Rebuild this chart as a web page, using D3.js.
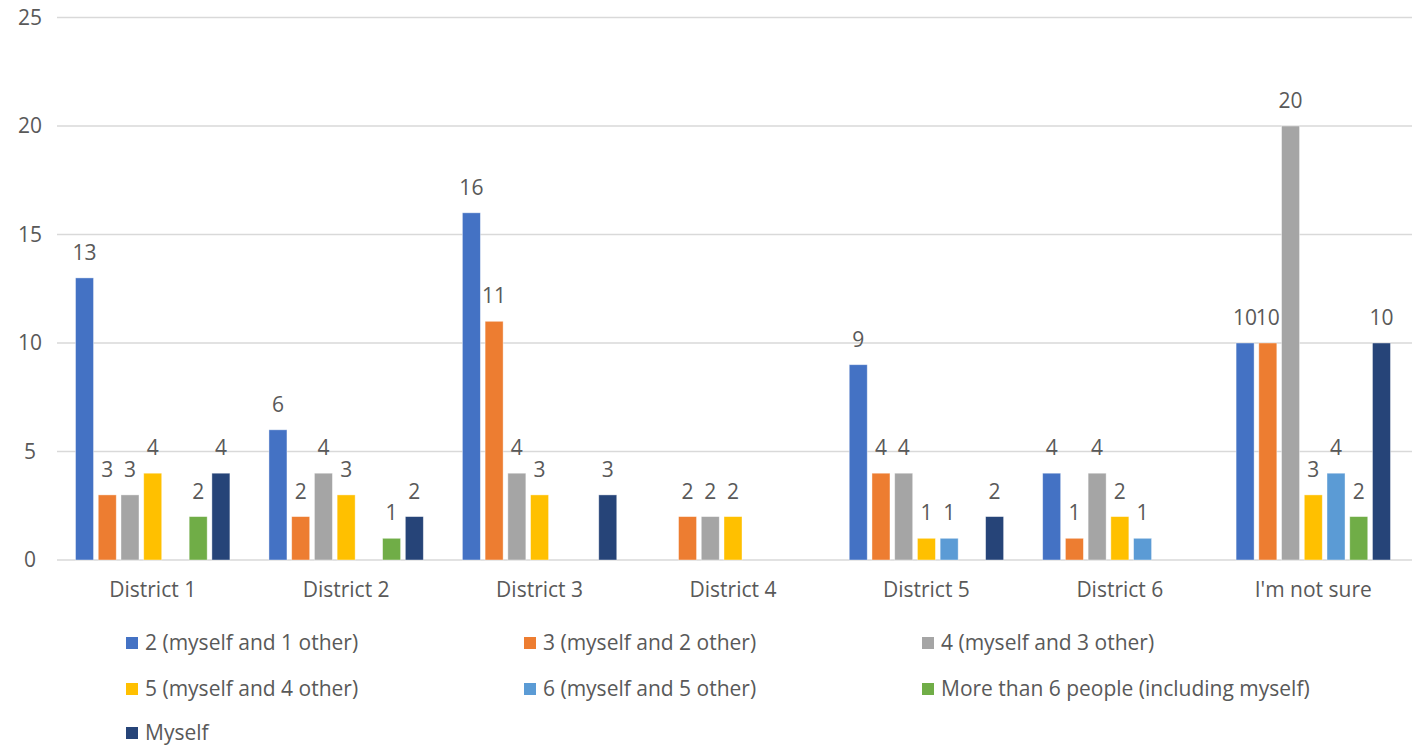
<!DOCTYPE html>
<html>
<head>
<meta charset="utf-8">
<script src="https://cdn.jsdelivr.net/npm/d3@7"></script>
<style>
  html, body { margin: 0; padding: 0; background: #fff; }
  svg text { font-family: "Open Sans", "Noto Sans", sans-serif; fill: #595959; }
</style>
</head>
<body>
<svg id="chart" width="1418" height="747"></svg>
<script>
// Household size by district
const categories = ["District 1", "District 2", "District 3", "District 4", "District 5", "District 6", "I'm not sure"];
const seriesNames = [
  "2 (myself and 1 other)",
  "3 (myself and 2 other)",
  "4 (myself and 3 other)",
  "5 (myself and 4 other)",
  "6 (myself and 5 other)",
  "More than 6 people (including myself)",
  "Myself"
];
const seriesColors = ["#4472C4", "#ED7D31", "#A5A5A5", "#FFC000", "#5B9BD5", "#70AD47", "#264478"];
// one array per series, values per category (null = no responses)
const s2 = [13, 6, 16, null, 9, 4, 10];
const s3 = [3, 2, 11, 2, 4, 1, 10];
const s4 = [3, 4, 4, 2, 4, 4, 20];
const s5 = [4, 3, 3, 2, 1, 2, 3];
const s6 = [null, null, null, null, 1, 1, 4];
const sMore6 = [2, 1, null, null, null, null, 2];
const sMyself = [4, 2, 3, null, 2, null, 10];
const yTicks = [0, 5, 10, 15, 20, 25];

const seriesValues = [s2, s3, s4, s5, s6, sMore6, sMyself];

const svg = d3.select("#chart");
const W = 1418, H = 747;
const plotLeft = 56, plotRight = 1410, plotTop = 17.5, plotBottom = 560;
const fs = 21;

const x = d3.scaleBand().domain(categories).range([plotLeft, plotRight]).paddingInner(0).paddingOuter(0);
const x1 = d3.scaleBand().domain(d3.range(seriesNames.length))
  .range([0, x.bandwidth()]).paddingInner(0.208).paddingOuter(0.859);
const y = d3.scaleLinear().domain([0, 25]).range([plotBottom, plotTop]);

// gridlines
svg.append("g").selectAll("line").data(yTicks).join("line")
  .attr("x1", plotLeft + 1).attr("x2", plotRight + 2)
  .attr("y1", d => y(d)).attr("y2", d => y(d))
  .attr("stroke", "#d9d9d9").attr("stroke-width", 1.3);

// y tick labels
svg.append("g").selectAll("text").data(yTicks).join("text")
  .attr("x", 30).attr("y", d => y(d)).attr("dy", "0.35em")
  .attr("text-anchor", "middle").attr("font-size", fs).text(d => d);

// bars
const groups = svg.append("g").selectAll("g").data(categories).join("g")
  .attr("transform", d => `translate(${x(d)},0)`);

groups.each(function(cat, ci) {
  const g = d3.select(this);
  seriesValues.forEach((vals, si) => {
    const v = vals[ci];
    if (v == null) return;
    g.append("rect")
      .attr("x", x1(si)).attr("width", x1.bandwidth())
      .attr("y", y(v)).attr("height", y(0) - y(v))
      .attr("fill", seriesColors[si])
      .attr("stroke", "#ffffff").attr("stroke-opacity", 0.5).attr("stroke-width", 0.8);
    g.append("text")
      .attr("x", x1(si) + x1.bandwidth() / 2).attr("y", y(v) - 18)
      .attr("text-anchor", "middle").attr("font-size", fs).text(v);
  });
});

// category labels
svg.append("g").selectAll("text").data(categories).join("text")
  .attr("x", d => x(d) + x.bandwidth() / 2).attr("y", 590).attr("dy", "0.35em")
  .attr("text-anchor", "middle").attr("font-size", fs).text(d => d);

// legend
const legCols = [126, 524, 922];
const legRows = [643, 689, 733];
const legend = svg.append("g").selectAll("g").data(seriesNames).join("g")
  .attr("transform", (d, i) => `translate(${legCols[i % 3]},${legRows[Math.floor(i / 3)]})`);
legend.append("rect").attr("x", 0).attr("y", -6).attr("width", 12).attr("height", 12)
  .attr("fill", (d, i) => seriesColors[i]);
legend.append("text").attr("x", 19).attr("y", 0).attr("dy", "0.35em")
  .attr("font-size", fs).text(d => d);
</script>
</body>
</html>
